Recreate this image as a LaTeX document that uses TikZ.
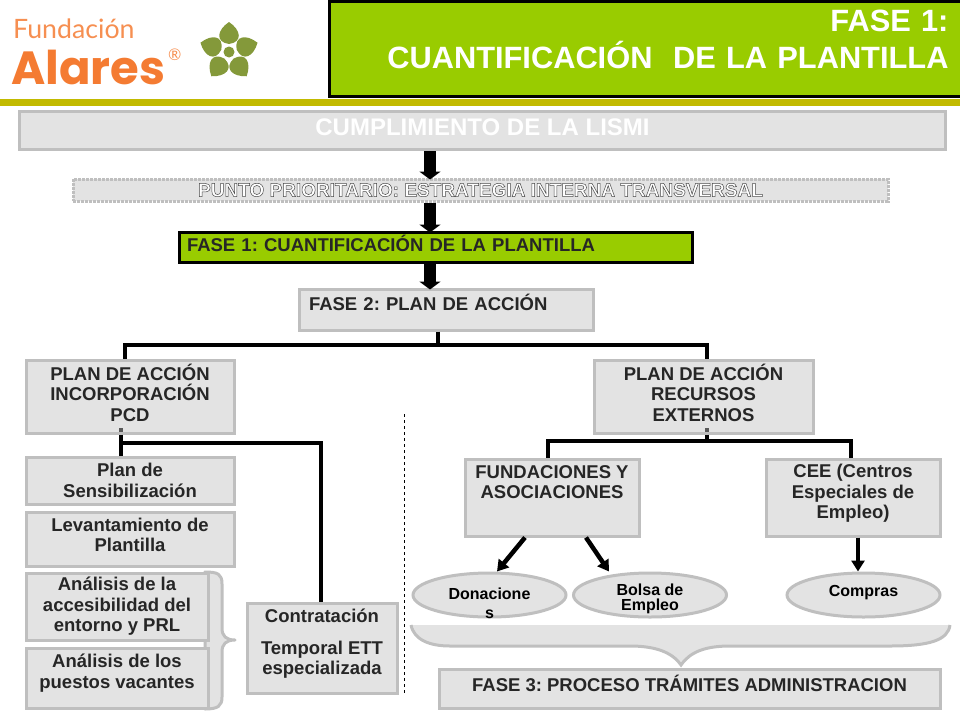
\documentclass[tikz,border=0pt]{standalone}
\usepackage{fontspec}
\setmainfont{Liberation Sans}
\newfontfamily\logofont{Lato}
\newfontfamily\alaresfont{Poppins}
\usetikzlibrary{arrows.meta, positioning, shapes.geometric}
\definecolor{boxfill}{HTML}{E3E3E3}
\definecolor{boxline}{HTML}{BFBFBF}
\definecolor{fasegreen}{HTML}{99CC00}
\definecolor{bandcolor}{HTML}{C2BA00}
\definecolor{inkdark}{HTML}{262626}
\definecolor{logoorange}{HTML}{F47B32}
\definecolor{leafgreen}{HTML}{84993A}
\newcommand{\outlined}[1]{\special{pdf:code 2 Tr 0.5 w 0.3 G}#1\special{pdf:code 0 Tr 0 G}}
\frenchspacing

\begin{document}
\begin{tikzpicture}[
    x=1pt, y=-1pt,
    box/.style={rectangle, draw=boxline, fill=boxfill, line width=3pt, align=center, text=inkdark, inner sep=0pt, font=\fontsize{18.5}{20.5}\selectfont\bfseries},
    greenbox/.style={rectangle, draw=black, fill=fasegreen, line width=3pt, inner sep=0pt, text=inkdark, font=\fontsize{18.5}{20}\selectfont\bfseries},
    oval/.style={ellipse, draw=boxline, fill=boxfill, line width=3pt, align=center, text=black, inner sep=0pt, minimum width=153pt, minimum height=44pt, font=\fontsize{16}{15}\selectfont\bfseries},
    bigarrow/.style={-{Triangle[width=21pt,length=8pt]}, line width=12pt, shorten >=-2pt},
    arrow/.style={-{Triangle[width=13pt,length=11pt]}, line width=4.5pt},
    link/.style={line width=4pt},
    brace/.style={draw=boxline, fill=boxfill, line width=3pt, line join=round},
    petal/.style={fill=leafgreen}
]

\useasboundingbox (0,0) rectangle (960,720);

% logo
\node[anchor=west, inner sep=0pt, text=logoorange!85!white] (fundacion) at (13,29) {\logofont\fontsize{26.7}{28}\selectfont Fundación};
\node[anchor=west, inner sep=0pt, text=logoorange] (alares) at (11,67) {\alaresfont\fontsize{46.5}{46.5}\selectfont\bfseries Alares};
\node[anchor=west, inner sep=0pt, text=logoorange!85!white] (regmark) at (168,55) {\logofont\fontsize{16}{16}\selectfont ®};
\foreach \a in {90,162,234,306,18}
  \fill[petal, shift={(229,52)}, rotate=\a] (8,0) .. controls (10,-14) and (22,-12) .. (30,0) .. controls (22,12) and (10,14) .. (8,0);
\fill[petal] (229,52) circle (5.5pt);
\fill[bandcolor] (0,99) rectangle (960,106);

% title
\node[greenbox, minimum width=633pt, minimum height=95pt, align=right, text=white, font=\fontsize{30.8}{37}\selectfont\bfseries, text width=605pt, text depth=56pt, anchor=north west] (title) at (328,0) {FASE 1:\\CUANTIFICACIÓN\ \ DE LA PLANTILLA};

% upper boxes
\node[box, minimum width=926pt, minimum height=38pt, text=white, font=\fontsize{24}{26}\selectfont\bfseries, text depth=7pt] (lismi) at (482.5,130.5) {CUMPLIMIENTO DE LA LISMI};
\node[rectangle, draw=boxline, fill=boxfill, line width=3pt, densely dotted, inner sep=0pt, minimum width=815pt, minimum height=22pt, text=white, font=\fontsize{19}{20}\selectfont\bfseries] (punto) at (480.5,190) {\outlined{PUNTO PRIORITARIO: ESTRATEGIA INTERNA TRANSVERSAL}};
\node[greenbox, minimum width=513pt, minimum height=30pt, align=left, text width=497pt, text depth=7pt] (fase1) at (435.5,247) {FASE 1: CUANTIFICACIÓN DE LA PLANTILLA};
\node[box, minimum width=294pt, minimum height=41pt, align=left, text width=274pt, text depth=14pt] (fase2) at (446,309.5) {FASE 2: PLAN DE ACCIÓN};

% plan boxes
\node[box, minimum width=208pt, minimum height=73pt, text depth=8pt] (pcd) at (130,396.5) {PLAN DE ACCIÓN\\INCORPORACIÓN\\PCD};
\node[box, minimum width=219pt, minimum height=73pt, text depth=8pt] (externos) at (703.5,396.5) {PLAN DE ACCIÓN\\RECURSOS\\EXTERNOS};

% left column
\node[box, minimum width=208pt, minimum height=47pt] (sensib) at (130,480.5) {Plan de\\Sensibilización};
\node[box, minimum width=208pt, minimum height=54pt, text depth=8pt] (levant) at (130,539) {Levantamiento de\\Plantilla};
\draw[brace] (205,572) .. controls (218,572) and (222,574) .. (222,584) -- (222,628) .. controls (222,636) and (226,640) .. (235,640) .. controls (226,640) and (222,644) .. (222,652) -- (222,697) .. controls (222,706) and (218,709) .. (205,709) -- cycle;
\node[box, minimum width=182pt, minimum height=67pt] (acces) at (117,606.5) {Análisis de la\\accesibilidad del\\entorno y PRL};
\node[box, minimum width=182pt, minimum height=60pt, text depth=14pt] (puestos) at (117,678) {Análisis de los\\puestos vacantes};
\node[box, minimum width=150pt, minimum height=90pt, text depth=12pt] (ett) at (322,648) {Contratación\\[11pt]Temporal ETT\\especializada};

% right column
\node[box, minimum width=174pt, minimum height=77pt, text depth=31pt] (fundac) at (552,497.5) {FUNDACIONES Y\\ASOCIACIONES};
\node[box, minimum width=174pt, minimum height=77pt, text depth=12pt] (cee) at (853,497.5) {CEE (Centros\\Especiales de\\Empleo)};
\node[oval, font=\fontsize{16}{19}\selectfont\bfseries, text height=46pt, text depth=0pt, inner ysep=-8pt] (donac) at (489.5,595) {Donacione\\s};
\node[oval, text height=30pt, text depth=0pt, inner ysep=-2pt] (bolsa) at (650,595) {Bolsa de\\Empleo};
\node[oval, text height=12pt, text depth=10pt] (compras) at (863.5,595) {Compras};
\draw[fill=boxfill, draw=none] (411,625) -- (950,625) .. controls (948,640) and (930,646) .. (890,646) -- (730,646) .. controls (705,646) and (690,652) .. (681,665) .. controls (672,652) and (655,646) .. (630,646) -- (450,646) .. controls (430,646) and (414,640) .. (411,625) -- cycle;
\draw[boxline, line width=3pt] (950,625) .. controls (948,640) and (930,646) .. (890,646) -- (730,646) .. controls (705,646) and (690,652) .. (681,665) .. controls (672,652) and (655,646) .. (630,646) -- (450,646) .. controls (430,646) and (414,640) .. (411,625);
\node[box, minimum width=501pt, minimum height=39pt, text depth=10pt] (fase3) at (689.5,688.5) {FASE 3: PROCESO TRÁMITES ADMINISTRACION};

% connectors
\coordinate (axisone) at (430,0);
\coordinate (split) at (438,345);
\coordinate (pcdtop) at (125,0);
\coordinate (exttop) at (707,0);
\coordinate (pcdout) at (121,0);
\coordinate (elbow) at (121,443);
\coordinate (ettdrop) at (321,0);
\coordinate (fork) at (707,441);
\coordinate (fundtop) at (548,0);
\coordinate (ceetop) at (851,0);
\coordinate (donactip) at (497,0);
\coordinate (donactail) at (525,0);
\coordinate (bolsatip) at (609,0);
\coordinate (bolsatail) at (586,0);
\coordinate (comprasaxis) at (858,0);

\draw[bigarrow] (lismi.south -| axisone) -- (punto.north -| axisone);
\draw[bigarrow] (punto.south -| axisone) -- (fase1.north -| axisone);
\draw[bigarrow] (fase1.south -| axisone) -- (fase2.north -| axisone);

\draw[link] (fase2.south -| split) -- (split);
\draw[link] (pcd.north -| pcdtop) |- (split) -| (externos.north -| exttop);
\draw[link] (pcd.south -| pcdout) -- (sensib.north -| pcdout);
\draw[link] (elbow) -| (ett.north -| ettdrop);
\draw[link] (externos.south -| fork) -- (fork);
\draw[link] (fundac.north -| fundtop) |- (fork) -| (cee.north -| ceetop);

\draw[arrow] (fundac.south -| donactail) -- (donac.north -| donactip);
\draw[arrow] (fundac.south -| bolsatail) -- (bolsa.north -| bolsatip);
\draw[arrow] (cee.south -| comprasaxis) -- (compras.north -| comprasaxis);

\draw[black, thin, dashed] (404,414) -- (404,694);
\fill[gray!70!black] (119,428) rectangle (123,432);
\fill[gray!70!black] (705,428) rectangle (709,432);

\end{tikzpicture}
\end{document}
